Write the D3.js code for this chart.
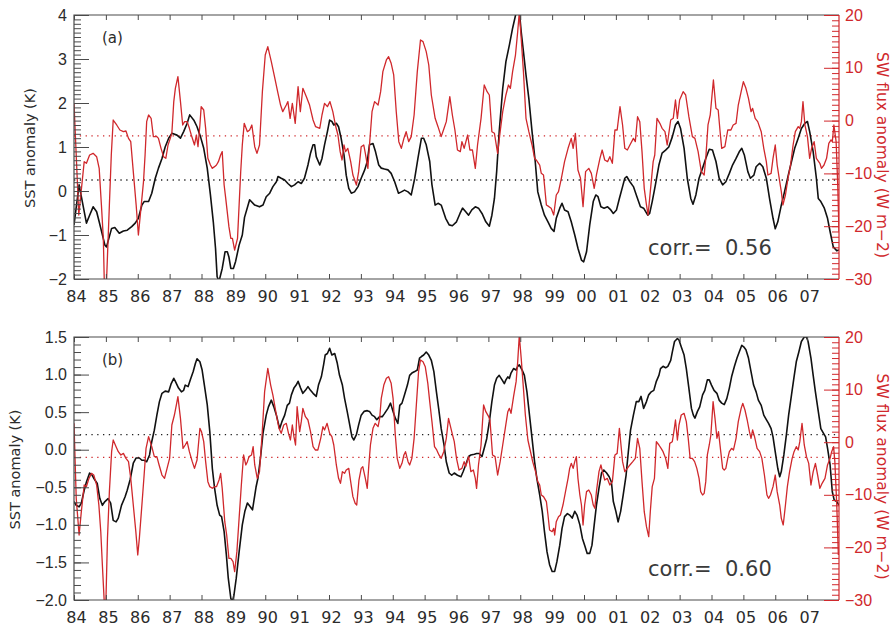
<!DOCTYPE html>
<html><head><meta charset="utf-8">
<script src="https://cdn.jsdelivr.net/npm/d3@7"></script>
<style>
body{margin:0;background:#fff}
svg{display:block;font-family:"DejaVu Sans",sans-serif}
</style>
</head><body>
<svg id="c" width="893" height="626"></svg>
<script>
// ---------------- DATA ----------------
const yearTicks = [84,85,86,87,88,89,90,91,92,93,94,95,96,97,98,99,100,101,102,103,104,105,106,107];
const yearLabels = ["84","85","86","87","88","89","90","91","92","93","94","95","96","97","98","99","00","01","02","03","04","05","06","07"];
const sstTicksA = [-2,-1,0,1,2,3,4];
const sstTicksB = [-2.0,-1.5,-1.0,-0.5,0.0,0.5,1.0,1.5];
const swTicks = [-30,-20,-10,0,10,20];
const corrA = "0.56", corrB = "0.60";
const meanSstA = 0.25, meanSwA = -2.9, meanSstB = 0.20, meanSwB = -2.9;

// [year-1900, SST anomaly (K)]
const sstA = [[84.00,-0.77],[84.16,0.14],[84.39,-0.73],[84.49,-0.55],[84.60,-0.36],[84.71,-0.47],[84.79,-0.70],[84.97,-1.23],[85.02,-1.27],[85.18,-0.85],[85.28,-0.83],[85.42,-0.96],[85.55,-0.91],[85.67,-0.89],[85.81,-0.81],[85.92,-0.73],[86.02,-0.62],[86.13,-0.32],[86.20,-0.24],[86.34,-0.24],[86.44,-0.05],[86.55,0.29],[86.65,0.52],[86.76,0.74],[86.86,1.00],[86.97,1.20],[87.07,1.31],[87.23,1.27],[87.34,1.20],[87.44,1.35],[87.55,1.54],[87.63,1.73],[87.76,1.61],[87.86,1.46],[87.97,1.23],[88.07,0.97],[88.18,0.52],[88.28,-0.09],[88.37,-0.70],[88.44,-1.30],[88.49,-1.95],[88.55,-2.05],[88.65,-1.76],[88.74,-1.38],[88.81,-1.38],[88.86,-1.50],[88.92,-1.76],[89.00,-1.76],[89.07,-1.60],[89.18,-1.23],[89.28,-1.00],[89.35,-0.60],[89.51,-0.20],[89.67,-0.32],[89.82,-0.36],[89.93,-0.32],[90.03,-0.13],[90.14,-0.05],[90.24,0.10],[90.35,0.21],[90.40,0.33],[90.50,0.29],[90.61,0.25],[90.71,0.17],[90.82,0.10],[90.92,0.14],[91.03,0.21],[91.13,0.17],[91.23,0.29],[91.34,0.59],[91.42,0.86],[91.50,1.05],[91.55,1.05],[91.60,0.78],[91.71,0.59],[91.78,0.74],[91.86,1.05],[91.95,1.35],[92.02,1.61],[92.09,1.58],[92.15,1.50],[92.23,1.54],[92.30,1.46],[92.38,1.20],[92.47,0.82],[92.54,0.36],[92.62,0.06],[92.70,-0.05],[92.80,-0.02],[92.91,0.10],[93.01,0.29],[93.12,0.48],[93.20,0.67],[93.27,1.05],[93.38,1.08],[93.46,0.89],[93.56,0.59],[93.64,0.52],[93.74,0.50],[93.85,0.48],[93.95,0.40],[94.06,0.21],[94.18,-0.05],[94.27,-0.02],[94.37,0.02],[94.48,-0.02],[94.58,-0.09],[94.69,0.29],[94.79,0.74],[94.90,1.20],[94.97,1.20],[95.05,1.05],[95.16,0.67],[95.23,0.14],[95.33,-0.32],[95.42,-0.28],[95.52,-0.32],[95.66,-0.62],[95.77,-0.77],[95.87,-0.79],[96.00,-0.70],[96.11,-0.51],[96.19,-0.39],[96.29,-0.47],[96.38,-0.55],[96.48,-0.43],[96.59,-0.36],[96.69,-0.39],[96.80,-0.51],[96.92,-0.70],[97.03,-0.80],[97.11,-0.55],[97.19,-0.17],[97.26,0.44],[97.34,1.35],[97.45,2.33],[97.55,2.94],[97.66,3.32],[97.76,3.70],[97.87,4.05],[97.97,4.10],[98.03,3.62],[98.10,3.17],[98.18,2.64],[98.27,2.10],[98.37,1.35],[98.47,0.67],[98.55,-0.02],[98.66,-0.32],[98.76,-0.55],[98.87,-0.70],[98.97,-0.85],[99.06,-0.92],[99.13,-0.62],[99.24,-0.39],[99.31,-0.28],[99.39,-0.43],[99.50,-0.47],[99.60,-0.70],[99.71,-1.00],[99.81,-1.30],[99.92,-1.57],[99.99,-1.61],[100.08,-1.38],[100.18,-0.77],[100.29,-0.24],[100.37,-0.09],[100.44,-0.13],[100.53,-0.36],[100.63,-0.39],[100.74,-0.36],[100.84,-0.43],[100.92,-0.51],[101.02,-0.43],[101.11,-0.17],[101.21,0.10],[101.28,0.29],[101.34,0.33],[101.44,0.21],[101.55,0.10],[101.66,-0.13],[101.77,-0.36],[101.87,-0.39],[102.00,-0.55],[102.06,-0.51],[102.14,-0.24],[102.24,0.14],[102.35,0.59],[102.45,0.86],[102.56,0.93],[102.66,1.00],[102.77,1.23],[102.87,1.50],[102.95,1.58],[103.03,1.42],[103.14,0.97],[103.24,0.29],[103.35,-0.17],[103.42,-0.30],[103.51,-0.09],[103.61,0.29],[103.72,0.52],[103.82,0.74],[103.93,0.95],[104.03,0.93],[104.14,0.67],[104.24,0.29],[104.35,0.14],[104.45,0.21],[104.56,0.40],[104.66,0.59],[104.77,0.74],[104.87,0.89],[104.95,0.97],[105.03,0.82],[105.14,0.44],[105.22,0.29],[105.33,0.36],[105.40,0.55],[105.51,0.63],[105.61,0.55],[105.72,0.29],[105.82,-0.17],[105.93,-0.62],[106.00,-0.86],[106.08,-0.70],[106.19,-0.32],[106.29,-0.02],[106.40,0.33],[106.51,0.67],[106.61,0.97],[106.72,1.20],[106.82,1.42],[106.93,1.54],[107.01,1.58],[107.08,1.35],[107.19,0.89],[107.29,0.29],[107.35,-0.17],[107.43,-0.24],[107.54,-0.39],[107.64,-0.62],[107.72,-0.92],[107.82,-1.27],[107.93,-1.36],[108.00,-1.34]];

// [year-1900, SW flux anomaly (W m-2)]
const swA = [[84.00,3.27],[84.15,-17.88],[84.32,-7.78],[84.39,-8.09],[84.49,-6.52],[84.60,-6.20],[84.71,-6.83],[84.79,-9.04],[84.86,-15.98],[84.92,-22.30],[84.95,-30.5],[85.02,-30.5],[85.11,-15.98],[85.17,-6.52],[85.23,0.11],[85.34,-0.83],[85.44,-1.78],[85.55,-2.10],[85.63,-1.97],[85.71,-3.36],[85.78,-3.99],[85.86,-9.67],[85.95,-15.98],[86.02,-21.67],[86.09,-17.25],[86.18,-11.57],[86.23,-6.52],[86.28,-0.20],[86.34,1.06],[86.42,0.43],[86.49,-3.04],[86.60,-3.04],[86.65,-3.36],[86.73,-5.25],[86.81,-6.83],[86.88,-7.15],[86.95,-4.62],[87.02,-3.36],[87.07,-2.41],[87.13,3.59],[87.18,6.11],[87.26,8.32],[87.34,3.59],[87.41,-0.83],[87.47,-0.20],[87.55,-0.20],[87.62,-1.46],[87.68,-2.73],[87.78,-4.62],[87.84,-2.73],[87.89,-4.94],[87.95,-0.83],[87.99,2.64],[88.07,2.01],[88.13,-1.46],[88.20,-7.15],[88.28,-8.41],[88.34,-9.04],[88.41,-8.72],[88.47,-8.41],[88.53,-7.78],[88.60,-6.52],[88.65,-5.88],[88.71,-12.20],[88.76,-14.72],[88.86,-20.09],[88.92,-22.30],[88.97,-22.30],[89.04,-24.51],[89.13,-22.30],[89.18,-15.98],[89.23,-9.67],[89.28,-4.62],[89.34,-0.52],[89.44,-2.10],[89.51,-1.78],[89.58,-0.83],[89.67,-4.94],[89.74,-6.20],[89.82,-4.62],[89.91,5.48],[90.00,12.42],[90.08,14.00],[90.19,11.16],[90.29,8.32],[90.40,5.16],[90.48,2.95],[90.55,1.69],[90.66,2.95],[90.71,3.59],[90.78,0.43],[90.85,3.27],[90.94,-0.52],[91.03,6.43],[91.10,1.69],[91.18,6.11],[91.29,4.53],[91.39,2.95],[91.50,0.11],[91.58,-1.15],[91.71,-1.46],[91.78,1.06],[91.86,3.27],[91.95,2.64],[92.03,3.59],[92.12,1.69],[92.20,-0.83],[92.28,-2.73],[92.35,-5.88],[92.41,-7.46],[92.47,-4.62],[92.52,-5.88],[92.59,-5.25],[92.68,-7.78],[92.75,-10.30],[92.86,-12.20],[92.93,-9.67],[93.01,-4.94],[93.09,-4.62],[93.14,-6.20],[93.22,-9.04],[93.27,-4.62],[93.35,1.69],[93.43,3.59],[93.54,2.95],[93.62,5.48],[93.69,9.27],[93.80,11.48],[93.87,12.11],[93.95,10.85],[94.03,8.64],[94.11,1.69],[94.19,-3.99],[94.27,-5.25],[94.35,-3.36],[94.42,-2.10],[94.50,-3.99],[94.58,-3.04],[94.67,1.06],[94.77,9.27],[94.87,15.27],[94.95,14.95],[95.05,13.06],[95.13,10.53],[95.21,4.85],[95.33,0.43],[95.42,-1.15],[95.52,-3.04],[95.61,-1.46],[95.68,-0.20],[95.79,4.53],[95.87,1.06],[95.95,-1.78],[96.03,-5.57],[96.12,-5.88],[96.17,-3.99],[96.24,-5.25],[96.35,-2.73],[96.42,-5.57],[96.50,-5.57],[96.59,-9.04],[96.66,-4.62],[96.77,0.43],[96.87,6.74],[96.96,5.48],[97.03,4.85],[97.11,-2.10],[97.19,-2.41],[97.29,-6.20],[97.37,-2.10],[97.45,1.69],[97.55,4.85],[97.63,6.74],[97.69,6.11],[97.76,9.27],[97.85,12.42],[97.92,16.84],[97.97,20.5],[98.03,15.58],[98.10,9.27],[98.18,0.43],[98.27,-2.10],[98.37,-4.62],[98.45,-7.15],[98.50,-7.46],[98.61,-8.41],[98.66,-9.99],[98.73,-10.30],[98.82,-15.98],[98.90,-16.30],[98.97,-16.62],[99.05,-17.88],[99.13,-14.09],[99.20,-13.46],[99.29,-10.93],[99.39,-7.78],[99.50,-5.25],[99.60,-3.36],[99.66,-5.25],[99.73,-2.41],[99.81,-9.36],[99.89,-10.93],[99.97,-16.30],[100.05,-9.67],[100.15,-9.04],[100.23,-9.99],[100.32,-12.83],[100.39,-10.30],[100.50,-7.15],[100.57,-5.57],[100.65,-7.46],[100.74,-7.78],[100.81,-6.83],[100.89,-8.09],[100.97,-1.78],[101.04,-1.78],[101.13,2.64],[101.21,-0.83],[101.28,-5.25],[101.36,-5.57],[101.44,-4.62],[101.55,-3.36],[101.61,-3.99],[101.68,0.74],[101.75,-0.20],[101.82,-5.88],[101.89,-12.83],[101.96,-15.98],[102.01,-17.88],[102.08,-13.46],[102.17,-7.78],[102.22,-6.52],[102.29,0.43],[102.38,-0.52],[102.45,-1.46],[102.54,-2.10],[102.61,-4.62],[102.72,0.11],[102.80,0.43],[102.87,3.90],[102.93,0.43],[103.00,3.90],[103.11,5.48],[103.19,4.85],[103.29,0.74],[103.40,-3.04],[103.48,-3.36],[103.58,-5.88],[103.68,-9.67],[103.77,-10.30],[103.82,-7.15],[103.89,-0.83],[103.96,1.06],[104.06,7.69],[104.14,2.32],[104.21,2.01],[104.27,-2.10],[104.32,-5.25],[104.42,-4.94],[104.51,-1.78],[104.61,-1.78],[104.68,-0.83],[104.77,-0.52],[104.84,2.95],[104.93,5.48],[105.00,7.37],[105.08,6.11],[105.16,4.22],[105.24,1.69],[105.29,2.32],[105.37,0.43],[105.45,-0.20],[105.56,-2.10],[105.64,-5.25],[105.72,-7.78],[105.77,-10.30],[105.87,-9.99],[105.93,-7.15],[106.00,-4.62],[106.06,-8.41],[106.14,-11.57],[106.19,-13.46],[106.24,-15.98],[106.32,-14.09],[106.40,-10.93],[106.48,-8.41],[106.56,-4.62],[106.63,-2.10],[106.72,-1.15],[106.77,-1.46],[106.82,-0.20],[106.87,3.59],[106.93,-0.83],[107.01,-3.04],[107.08,-7.15],[107.14,-5.25],[107.22,-3.99],[107.29,-7.15],[107.40,-8.09],[107.45,-9.04],[107.53,-8.41],[107.61,-7.15],[107.68,-4.31],[107.75,-3.67],[107.79,-3.99],[107.84,-0.83],[107.91,-3.99],[107.96,-12.20],[108.00,-21.04]];

const sstB = [[84.00,-0.69],[84.07,-0.74],[84.16,-0.76],[84.23,-0.71],[84.32,-0.54],[84.39,-0.43],[84.49,-0.31],[84.57,-0.34],[84.65,-0.40],[84.73,-0.45],[84.81,-0.65],[84.89,-0.74],[84.97,-0.69],[85.07,-0.65],[85.15,-0.71],[85.23,-0.94],[85.32,-0.96],[85.39,-0.91],[85.49,-0.74],[85.60,-0.63],[85.67,-0.54],[85.76,-0.40],[85.86,-0.18],[85.95,-0.11],[86.05,-0.11],[86.13,-0.14],[86.20,-0.14],[86.28,-0.16],[86.37,-0.07],[86.44,0.11],[86.52,0.26],[86.60,0.46],[86.68,0.64],[86.76,0.75],[86.86,0.78],[86.97,0.77],[87.05,0.88],[87.13,0.95],[87.18,0.91],[87.28,0.82],[87.37,0.77],[87.44,0.79],[87.49,0.86],[87.58,0.84],[87.65,0.93],[87.74,1.04],[87.81,1.15],[87.86,1.21],[87.95,1.17],[88.02,1.06],[88.09,0.86],[88.18,0.60],[88.26,0.24],[88.34,-0.25],[88.41,-0.51],[88.49,-0.74],[88.57,-0.87],[88.63,-0.89],[88.71,-1.09],[88.78,-1.40],[88.84,-1.71],[88.92,-1.98],[88.97,-2.02],[89.02,-1.93],[89.09,-1.71],[89.18,-1.36],[89.28,-1.00],[89.36,-0.82],[89.44,-0.71],[89.53,-0.76],[89.60,-0.80],[89.71,-0.50],[89.77,-0.38],[89.85,-0.11],[89.93,0.22],[90.03,0.46],[90.10,0.57],[90.19,0.66],[90.27,0.57],[90.35,0.46],[90.45,0.28],[90.52,0.37],[90.61,0.46],[90.69,0.59],[90.76,0.62],[90.82,0.73],[90.90,0.82],[90.97,0.86],[91.03,0.91],[91.11,0.82],[91.18,0.75],[91.26,0.79],[91.34,0.84],[91.42,0.79],[91.50,0.75],[91.60,0.71],[91.67,0.86],[91.76,0.97],[91.83,1.13],[91.88,1.26],[91.95,1.28],[92.02,1.35],[92.09,1.26],[92.18,1.28],[92.26,1.15],[92.33,0.99],[92.42,0.86],[92.49,0.68],[92.57,0.51],[92.65,0.33],[92.72,0.17],[92.78,0.13],[92.86,0.20],[92.93,0.33],[93.01,0.46],[93.10,0.51],[93.20,0.52],[93.27,0.51],[93.35,0.46],[93.43,0.44],[93.50,0.40],[93.59,0.44],[93.67,0.44],[93.74,0.48],[93.85,0.55],[93.93,0.62],[94.01,0.51],[94.08,0.42],[94.16,0.35],[94.22,0.59],[94.29,0.62],[94.37,0.73],[94.46,0.86],[94.53,0.99],[94.60,1.02],[94.69,1.04],[94.77,1.06],[94.84,1.22],[94.90,1.24],[94.97,1.26],[95.05,1.30],[95.13,1.26],[95.21,1.19],[95.29,1.04],[95.37,0.77],[95.44,0.55],[95.52,0.28],[95.61,0.06],[95.68,-0.16],[95.77,-0.31],[95.85,-0.34],[95.93,-0.31],[96.03,-0.34],[96.14,-0.36],[96.21,-0.29],[96.29,-0.20],[96.38,-0.09],[96.45,-0.07],[96.56,-0.06],[96.63,-0.05],[96.71,-0.05],[96.80,-0.09],[96.87,0.02],[96.95,0.15],[97.03,0.37],[97.11,0.64],[97.19,0.86],[97.26,0.95],[97.34,0.99],[97.43,0.93],[97.50,0.88],[97.55,0.93],[97.61,0.97],[97.66,0.95],[97.71,1.02],[97.79,1.08],[97.87,1.06],[97.92,1.11],[97.97,1.13],[98.06,1.06],[98.13,0.99],[98.21,0.77],[98.29,0.46],[98.37,0.15],[98.45,-0.16],[98.52,-0.38],[98.61,-0.60],[98.69,-0.82],[98.76,-1.09],[98.84,-1.36],[98.92,-1.53],[99.00,-1.62],[99.08,-1.62],[99.15,-1.49],[99.24,-1.27],[99.31,-1.05],[99.39,-0.89],[99.48,-0.85],[99.55,-0.87],[99.63,-0.91],[99.71,-0.82],[99.78,-0.87],[99.87,-1.00],[99.95,-1.18],[100.02,-1.27],[100.10,-1.38],[100.18,-1.38],[100.25,-1.27],[100.32,-1.00],[100.39,-0.74],[100.47,-0.51],[100.55,-0.31],[100.62,-0.27],[100.71,-0.31],[100.79,-0.36],[100.86,-0.43],[100.92,-0.69],[101.00,-0.82],[101.07,-0.96],[101.15,-0.82],[101.23,-0.60],[101.32,-0.34],[101.39,-0.03],[101.46,0.26],[101.55,0.46],[101.64,0.64],[101.72,0.64],[101.79,0.71],[101.87,0.55],[101.96,0.64],[102.03,0.73],[102.11,0.77],[102.19,0.79],[102.27,0.91],[102.35,0.99],[102.40,1.08],[102.48,1.11],[102.56,1.09],[102.63,1.11],[102.72,1.19],[102.77,1.30],[102.84,1.44],[102.93,1.48],[102.98,1.46],[103.05,1.37],[103.14,1.26],[103.21,1.08],[103.29,0.82],[103.37,0.55],[103.43,0.46],[103.48,0.42],[103.56,0.51],[103.63,0.57],[103.72,0.73],[103.79,0.79],[103.87,0.93],[103.93,0.93],[104.00,0.86],[104.08,0.79],[104.17,0.75],[104.24,0.66],[104.32,0.62],[104.40,0.60],[104.48,0.68],[104.56,0.82],[104.63,0.97],[104.72,1.11],[104.80,1.22],[104.87,1.30],[104.95,1.39],[105.01,1.37],[105.08,1.33],[105.16,1.22],[105.24,1.04],[105.32,0.86],[105.40,0.77],[105.47,0.66],[105.56,0.59],[105.64,0.46],[105.72,0.40],[105.79,0.35],[105.87,0.28],[105.93,0.17],[106.00,-0.03],[106.08,-0.25],[106.14,-0.36],[106.19,-0.29],[106.27,-0.07],[106.35,0.20],[106.42,0.46],[106.51,0.73],[106.59,0.97],[106.66,1.17],[106.74,1.30],[106.82,1.44],[106.91,1.50],[106.98,1.50],[107.03,1.44],[107.12,1.22],[107.19,0.99],[107.26,0.77],[107.35,0.51],[107.43,0.28],[107.51,0.22],[107.58,0.17],[107.64,0.02],[107.72,-0.20],[107.79,-0.56],[107.85,-0.67],[107.93,-0.69],[108.00,-0.74]];

const swB = [[84.00,3.59],[84.07,-10.67],[84.16,-17.64],[84.23,-13.21],[84.32,-8.14],[84.39,-8.45],[84.47,-6.87],[84.55,-5.92],[84.62,-6.24],[84.71,-8.14],[84.78,-11.94],[84.84,-17.01],[84.89,-23.35],[84.95,-30.5],[85.00,-30.5],[85.05,-18.28],[85.11,-9.40],[85.18,-1.80],[85.23,0.42],[85.32,-0.85],[85.39,-1.80],[85.47,-2.43],[85.55,-2.12],[85.63,-3.07],[85.71,-3.70],[85.78,-6.87],[85.86,-11.94],[85.94,-17.01],[86.00,-21.44],[86.05,-18.28],[86.13,-11.94],[86.20,-6.24],[86.26,-1.17],[86.34,1.05],[86.39,0.10],[86.44,-0.85],[86.52,-2.75],[86.60,-2.75],[86.67,-4.33],[86.76,-6.24],[86.84,-6.87],[86.92,-4.97],[87.00,-3.07],[87.07,3.27],[87.15,5.17],[87.21,7.07],[87.26,8.66],[87.34,4.54],[87.42,-1.17],[87.49,-0.53],[87.55,0.10],[87.62,-1.80],[87.71,-3.70],[87.78,-4.97],[87.86,-3.38],[87.95,2.64],[88.00,2.00],[88.07,0.10],[88.13,-3.70],[88.20,-7.50],[88.26,-8.45],[88.34,-8.77],[88.41,-8.45],[88.47,-8.45],[88.55,-7.19],[88.60,-5.92],[88.65,-8.77],[88.73,-15.11],[88.79,-17.64],[88.86,-22.08],[88.92,-22.08],[88.99,-22.71],[89.04,-24.61],[89.11,-20.81],[89.18,-14.47],[89.25,-8.14],[89.32,-2.43],[89.39,-4.33],[89.44,-3.70],[89.49,-2.75],[89.57,-2.43],[89.62,-0.85],[89.67,-4.33],[89.75,-6.87],[89.82,-5.60],[89.90,1.37],[89.98,9.61],[90.08,14.04],[90.17,10.87],[90.24,8.97],[90.35,5.17],[90.43,2.64],[90.50,1.69],[90.58,3.27],[90.66,3.59],[90.73,1.69],[90.79,0.42],[90.85,3.27],[90.90,1.05],[90.95,-0.53],[91.00,6.76],[91.08,2.00],[91.13,3.90],[91.18,6.44],[91.26,4.85],[91.34,4.22],[91.42,2.00],[91.50,-0.85],[91.57,-1.48],[91.65,-1.48],[91.74,0.74],[91.81,2.95],[91.86,2.32],[91.94,3.59],[92.02,1.69],[92.09,1.05],[92.15,-0.53],[92.23,-4.33],[92.30,-6.87],[92.36,-7.82],[92.42,-5.60],[92.49,-5.92],[92.54,-5.29],[92.62,-4.97],[92.68,-7.50],[92.75,-10.35],[92.82,-11.62],[92.87,-11.94],[92.94,-7.19],[93.01,-4.97],[93.06,-4.65],[93.14,-6.87],[93.20,-8.77],[93.25,-4.33],[93.30,-0.53],[93.38,2.64],[93.45,3.59],[93.54,2.95],[93.59,4.54],[93.64,8.34],[93.72,10.87],[93.80,12.14],[93.87,12.46],[93.95,11.19],[94.01,8.34],[94.08,1.37],[94.14,-3.07],[94.22,-4.97],[94.29,-4.02],[94.35,-2.43],[94.40,-1.80],[94.48,-3.70],[94.53,-4.33],[94.60,-3.07],[94.67,0.74],[94.74,7.07],[94.81,13.41],[94.87,15.63],[94.95,15.31],[95.02,14.36],[95.10,11.19],[95.16,7.71],[95.23,3.90],[95.31,-0.85],[95.38,-1.48],[95.45,-2.43],[95.52,-3.07],[95.60,-1.80],[95.68,0.74],[95.75,4.54],[95.85,2.00],[95.93,0.10],[96.00,-3.07],[96.08,-5.29],[96.17,-4.97],[96.24,-3.70],[96.29,-4.65],[96.38,-2.75],[96.45,-5.60],[96.53,-5.29],[96.59,-6.87],[96.63,-8.77],[96.69,-4.33],[96.77,-0.53],[96.85,7.07],[96.92,5.80],[97.01,4.85],[97.05,4.22],[97.13,-2.43],[97.21,-2.75],[97.29,-6.24],[97.37,-3.70],[97.45,-0.53],[97.53,2.64],[97.61,5.80],[97.66,6.44],[97.71,5.49],[97.79,8.66],[97.87,11.51],[97.92,15.31],[97.97,20.3],[98.03,15.94],[98.10,10.24],[98.16,5.17],[98.24,0.42],[98.31,-1.48],[98.39,-3.70],[98.48,-5.60],[98.55,-7.50],[98.61,-8.14],[98.66,-10.04],[98.73,-10.35],[98.82,-11.31],[98.87,-13.84],[98.92,-16.69],[99.00,-17.01],[99.05,-16.37],[99.08,-17.64],[99.13,-15.11],[99.20,-14.16],[99.26,-13.84],[99.34,-11.94],[99.42,-9.40],[99.50,-6.87],[99.55,-4.97],[99.60,-4.02],[99.66,-4.97],[99.71,-3.70],[99.76,-2.75],[99.81,-6.87],[99.87,-10.04],[99.92,-11.94],[99.97,-15.74],[100.02,-11.94],[100.08,-9.40],[100.15,-9.09],[100.23,-10.04],[100.29,-11.94],[100.34,-12.57],[100.39,-9.40],[100.47,-5.60],[100.53,-4.33],[100.58,-5.60],[100.65,-7.19],[100.73,-6.87],[100.81,-8.14],[100.89,-7.50],[100.97,-2.43],[101.04,-2.12],[101.11,2.64],[101.16,-0.53],[101.21,-3.70],[101.28,-5.60],[101.36,-4.97],[101.44,-4.33],[101.53,-3.70],[101.61,-3.07],[101.68,0.74],[101.75,-1.17],[101.82,-7.50],[101.89,-13.21],[101.96,-16.06],[102.03,-17.96],[102.08,-13.21],[102.14,-8.45],[102.21,-6.87],[102.27,0.10],[102.35,-0.53],[102.42,-1.17],[102.48,-1.80],[102.56,-3.07],[102.63,-4.97],[102.69,-0.22],[102.77,0.10],[102.82,2.00],[102.87,4.22],[102.93,0.42],[102.98,3.27],[103.05,5.17],[103.14,5.49],[103.21,3.90],[103.27,0.74],[103.33,-3.07],[103.40,-3.07],[103.47,-3.70],[103.54,-4.97],[103.61,-6.87],[103.66,-9.40],[103.72,-10.04],[103.77,-9.72],[103.82,-7.50],[103.87,-2.43],[103.93,-0.53],[103.98,1.37],[104.05,7.71],[104.11,4.54],[104.17,0.74],[104.22,2.00],[104.29,-1.80],[104.35,-4.97],[104.40,-5.29],[104.45,-4.97],[104.51,-3.07],[104.56,-1.80],[104.63,-1.17],[104.69,-1.48],[104.77,0.74],[104.84,3.90],[104.93,6.44],[104.98,7.39],[105.05,6.12],[105.12,4.22],[105.19,2.00],[105.24,0.74],[105.29,2.32],[105.35,1.05],[105.43,-1.17],[105.51,-1.80],[105.58,-3.07],[105.66,-6.24],[105.74,-10.04],[105.79,-10.67],[105.85,-10.04],[105.93,-8.45],[106.00,-6.24],[106.06,-9.40],[106.14,-11.94],[106.19,-14.47],[106.25,-15.74],[106.32,-11.94],[106.38,-8.45],[106.45,-5.60],[106.53,-3.07],[106.59,-1.80],[106.66,-0.85],[106.72,-1.48],[106.77,0.10],[106.84,3.59],[106.91,-0.53],[106.98,-2.75],[107.05,-4.02],[107.12,-8.14],[107.19,-5.60],[107.26,-4.02],[107.33,-6.24],[107.40,-8.77],[107.47,-7.82],[107.56,-6.87],[107.64,-4.33],[107.72,-3.07],[107.77,-1.80],[107.83,-0.85],[107.87,-3.70],[107.93,-11.94],[107.98,-21.44]];

// ---------------- DRAW ----------------
const svg = d3.select("#c");
const RED = "#d0282c", TXT = "#2b2b2b", FRAME = "#4a4a4a";
const NUMFONT = "'Liberation Sans', Arial, sans-serif";
const X0 = 74, X1 = 839;
const x = d3.scaleLinear().domain([84, 108]).range([X0, X1]);

function drawPanel(p) {
  const y = d3.scaleLinear().domain(p.ldom).range([p.bottom, p.top]);
  const yr = d3.scaleLinear().domain([-30, 20]).range([p.bottom, p.top]);
  const g = svg.append("g");
  const cid = "clip" + p.id;
  svg.append("defs").append("clipPath").attr("id", cid)
    .append("rect").attr("x", X0).attr("y", p.top).attr("width", X1 - X0).attr("height", p.bottom - p.top);

  // dotted mean lines
  g.append("line").attr("x1", X0).attr("x2", X1).attr("y1", y(p.meanSst)).attr("y2", y(p.meanSst))
    .attr("stroke", "#222").attr("stroke-width", 1.3).attr("stroke-dasharray", "1.3,4.5");
  g.append("line").attr("x1", X0).attr("x2", X1).attr("y1", yr(p.meanSw)).attr("y2", yr(p.meanSw))
    .attr("stroke", RED).attr("stroke-width", 1.3).attr("stroke-dasharray", "1.3,4.5");

  const lines = g.append("g").attr("clip-path", `url(#${cid})`);
  lines.append("path").datum(p.sst)
    .attr("fill", "none").attr("stroke", "#111").attr("stroke-width", 1.6).attr("stroke-linejoin", "round")
    .attr("d", d3.line().x(d => x(d[0])).y(d => y(d[1])));
  lines.append("path").datum(p.sw)
    .attr("fill", "none").attr("stroke", RED).attr("stroke-width", 1.3).attr("stroke-linejoin", "round")
    .attr("d", d3.line().x(d => x(d[0])).y(d => yr(d[1])));

  // frame
  g.append("path").attr("d", `M${X1},${p.top}H${X0}V${p.bottom}H${X1}`)
    .attr("fill", "none").attr("stroke", FRAME).attr("stroke-width", 1.2);
  g.append("line").attr("x1", X1).attr("x2", X1).attr("y1", p.top).attr("y2", p.bottom)
    .attr("stroke", RED).attr("stroke-width", 1.2);

  const styleAx = (sel, col, font) => {
    sel.select(".domain").remove();
    sel.attr("color", col).attr("font-family", null).attr("font-size", null);
    sel.selectAll("line").attr("stroke-width", 1);
    sel.selectAll("text").style("font-family", font || NUMFONT).style("font-size", "16px")
      .attr("fill", col === RED ? RED : TXT);
  };

  // bottom & top x axes
  const xb = g.append("g").attr("transform", `translate(0,${p.bottom})`)
    .call(d3.axisBottom(x).tickValues(yearTicks).tickSize(-5).tickPadding(12)
      .tickFormat((d, i) => yearLabels[i]));
  styleAx(xb, FRAME, "'DejaVu Sans', sans-serif");
  xb.selectAll("text").attr("dx", 2);
  const xt = g.append("g").attr("transform", `translate(0,${p.top})`)
    .call(d3.axisTop(x).tickValues(yearTicks).tickSize(-5).tickFormat(""));
  styleAx(xt, FRAME);

  // left axis
  const yl = g.append("g").attr("transform", `translate(${X0},0)`)
    .call(d3.axisLeft(y).tickValues(p.lticks).tickSize(-15).tickPadding(7).tickFormat(d3.format(p.lfmt)));
  styleAx(yl, FRAME);
  const ylm = g.append("g").attr("transform", `translate(${X0},0)`)
    .call(d3.axisLeft(y).tickValues(d3.range(Math.round(p.ldom[0] * 10), Math.round(p.ldom[1] * 10) + 1).map(v => v / 10))
      .tickSize(-7).tickFormat(""));
  styleAx(ylm, FRAME);

  // right axis
  const yrA = g.append("g").attr("transform", `translate(${X1},0)`)
    .call(d3.axisRight(yr).tickValues(swTicks).tickSize(-15).tickPadding(6).tickFormat(d3.format("d")));
  styleAx(yrA, RED);
  const yrm = g.append("g").attr("transform", `translate(${X1},0)`)
    .call(d3.axisRight(yr).tickValues(d3.range(-30, 21, 1)).tickSize(-7).tickFormat(""));
  styleAx(yrm, RED);

  const mid = (p.top + p.bottom) / 2;
  g.append("text").attr("transform", `translate(${p.ylabX},${mid + 1}) rotate(-90)`)
    .attr("text-anchor", "middle").attr("font-size", 14.5).attr("fill", TXT).text("SST anomaly (K)");
  g.append("text").attr("transform", `translate(877,${mid + 8}) rotate(90)`)
    .attr("text-anchor", "middle").attr("font-size", 15.5).attr("fill", RED).text("SW flux anomaly (W m\u22122)");

  g.append("text").attr("x", 102).attr("y", p.top + 28).attr("font-size", 15).attr("fill", TXT).text(p.tag);
  g.append("text").attr("x", 648).attr("y", p.bottom - 24).attr("font-size", 21).attr("fill", "#3a3a3a")
    .attr("xml:space", "preserve").style("white-space", "pre").text("corr.=  " + p.corr);
}

drawPanel({id: "a", top: 15, bottom: 279, ldom: [-2, 4], lticks: sstTicksA, lfmt: "d", ylabX: 35,
  sst: sstA, sw: swA, meanSst: meanSstA, meanSw: meanSwA, tag: "(a)", corr: corrA});
drawPanel({id: "b", top: 337, bottom: 600, ldom: [-2, 1.5], lticks: sstTicksB, lfmt: ".1f", ylabX: 20,
  sst: sstB, sw: swB, meanSst: meanSstB, meanSw: meanSwB, tag: "(b)", corr: corrB});
</script>
</body></html>
